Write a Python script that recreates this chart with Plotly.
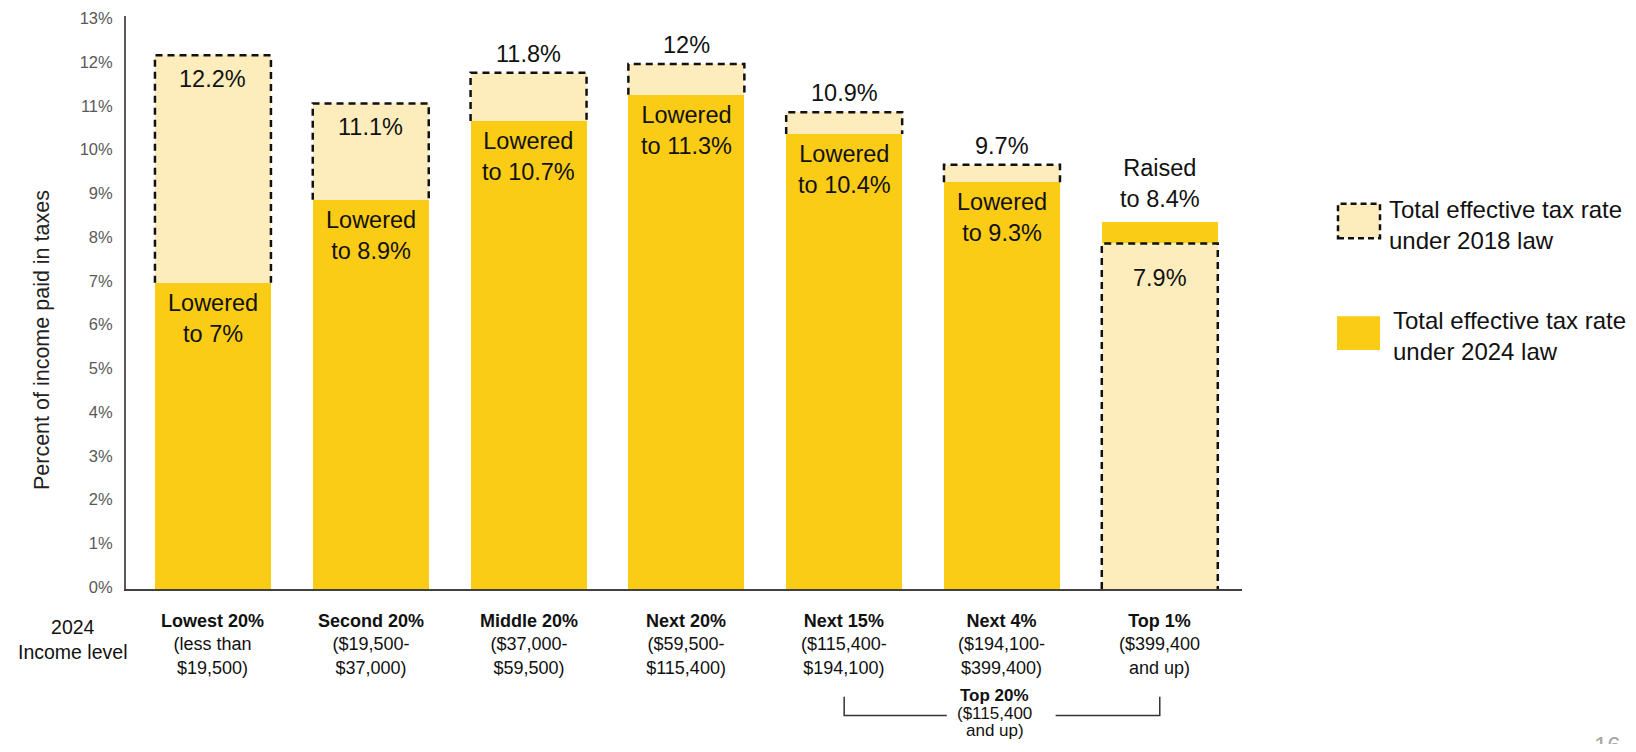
import plotly.graph_objects as go

# ---------------- data ----------------
categories = ["Lowest 20%", "Second 20%", "Middle 20%", "Next 20%", "Next 15%", "Next 4%", "Top 1%"]
income_ranges = ["(less than<br>$19,500)", "($19,500-<br>$37,000)", "($37,000-<br>$59,500)",
                 "($59,500-<br>$115,400)", "($115,400-<br>$194,100)", "($194,100-<br>$399,400)",
                 "($399,400<br>and up)"]
rate_2018 = [12.2, 11.1, 11.8, 12.0, 10.9, 9.7, 7.9]
rate_2024 = [7.0, 8.9, 10.7, 11.3, 10.4, 9.3, 8.4]
label_2018 = ["12.2%", "11.1%", "11.8%", "12%", "10.9%", "9.7%", "7.9%"]
label_2024 = ["Lowered<br>to 7%", "Lowered<br>to 8.9%", "Lowered<br>to 10.7%", "Lowered<br>to 11.3%",
              "Lowered<br>to 10.4%", "Lowered<br>to 9.3%", "Raised<br>to 8.4%"]
y_ticks = list(range(0, 14))
y_tick_labels = [f"{t}%" for t in y_ticks]
legend_labels = ["Total effective tax rate<br>under 2018 law", "Total effective tax rate<br>under 2024 law"]
group_lines = ["<b>Top 20%</b>", "($115,400", "and up)"]
left_label = "2024<br>Income level"
y_title = "Percent of income paid in taxes"
page_number = "16"

# ---------------- style ----------------
GOLD = "#FACC16"
LIGHT = "#FDEDBD"
FONT = "Liberation Sans, Arial, sans-serif"
BAR_W = 0.735
DASH = "7px,5px"
OFF = 8  # default page body margin

W, H = 1620, 736
ML, MT = 126 - OFF, 9 - OFF
PLOT_RIGHT, PLOT_BOTTOM = 1242 - OFF, 589 - OFF
MR, MB = W - PLOT_RIGHT, H - PLOT_BOTTOM
PW, PH = W - ML - MR, H - MT - MB


def px(x):  # page pixel x -> paper
    return (x - OFF - ML) / PW


def py(y):  # page pixel y -> paper
    return (H - MB - (y - OFF)) / PH


xs = list(range(len(categories)))
fig = go.Figure()

behind = [v18 if v18 > v24 else None for v18, v24 in zip(rate_2018, rate_2024)]
front = [v18 if v18 <= v24 else None for v18, v24 in zip(rate_2018, rate_2024)]

fig.add_trace(go.Bar(x=xs, y=behind, width=BAR_W, marker=dict(color=LIGHT, line=dict(width=0)),
                     hoverinfo="skip", showlegend=False))
fig.add_trace(go.Bar(x=xs, y=rate_2024, width=BAR_W, marker=dict(color=GOLD, line=dict(width=0)),
                     hoverinfo="skip", showlegend=False))
fig.add_trace(go.Bar(x=xs, y=front, width=BAR_W, marker=dict(color=LIGHT, line=dict(width=0)),
                     hoverinfo="skip", showlegend=False))

# dashed outlines of the 2018 bars (visible portion)
ox, oy = [], []
for i, (v18, v24) in enumerate(zip(rate_2018, rate_2024)):
    base = v24 if v18 > v24 else 0
    ox += [i - BAR_W / 2, i - BAR_W / 2, i + BAR_W / 2, i + BAR_W / 2, None]
    oy += [base, v18, v18, base, None]
fig.add_trace(go.Scatter(x=ox, y=oy, mode="lines", line=dict(color="#111111", width=2.5, dash=DASH),
                         hoverinfo="skip", showlegend=False, cliponaxis=False))

annotations = []
lab_font = dict(family=FONT, size=23.5, color="#111111")
for i, (v18, v24) in enumerate(zip(rate_2018, rate_2024)):
    if v18 > v24:
        if v18 - v24 > 1.5:
            annotations.append(dict(x=i, y=v18, xref="x", yref="y", text=label_2018[i], showarrow=False,
                                    yanchor="top", yshift=-9, font=lab_font))
        else:
            annotations.append(dict(x=i, y=v18, xref="x", yref="y", text=label_2018[i], showarrow=False,
                                    yanchor="bottom", yshift=4, font=lab_font))
        annotations.append(dict(x=i, y=v24, xref="x", yref="y", text=label_2024[i], showarrow=False,
                                yanchor="top", yshift=-5, font=lab_font))
    else:
        annotations.append(dict(x=i, y=v18, xref="x", yref="y", text=label_2018[i], showarrow=False,
                                yanchor="top", yshift=-20, font=lab_font))
        annotations.append(dict(x=i, y=v24, xref="x", yref="y", text=label_2024[i], showarrow=False,
                                yanchor="bottom", yshift=8, font=lab_font))

# category labels
for i, (c, r) in enumerate(zip(categories, income_ranges)):
    annotations.append(dict(x=i, y=0, xref="x", yref="y", text=f"<b>{c}</b><br>{r}", showarrow=False,
                            yanchor="top", yshift=-20, font=dict(family=FONT, size=18, color="#111111")))

annotations.append(dict(x=px(72), y=py(640), xref="paper", yref="paper", text=left_label, showarrow=False,
                        xanchor="center", yanchor="middle", font=dict(family=FONT, size=19.5, color="#111111")))

annotations.append(dict(x=px(42), y=py(337), xref="paper", yref="paper", text=y_title, showarrow=False,
                        textangle=-90, xanchor="center", yanchor="middle",
                        font=dict(family=FONT, size=21.5, color="#222222")))

for k, (line, ycen) in enumerate(zip(group_lines, [697, 715, 732])):
    annotations.append(dict(x=5, y=py(ycen), xref="x", yref="paper", text=line, showarrow=False,
                            yanchor="middle", xshift=-7, font=dict(family=FONT, size=17, color="#111111")))

annotations.append(dict(x=px(1387), y=py(221), xref="paper", yref="paper", text=legend_labels[0],
                        showarrow=False, xanchor="left", yanchor="middle", align="left",
                        font=dict(family=FONT, size=24, color="#111111")))
annotations.append(dict(x=px(1391), y=py(333), xref="paper", yref="paper", text=legend_labels[1],
                        showarrow=False, xanchor="left", yanchor="middle", align="left",
                        font=dict(family=FONT, size=24, color="#111111")))

annotations.append(dict(x=px(1607), y=py(732), xref="paper", yref="paper", text=page_number, showarrow=False,
                        xanchor="center", yanchor="top", font=dict(family=FONT, size=24, color="#A6A6A6")))

shapes = [
    dict(type="rect", xref="paper", yref="paper", x0=px(1338), x1=px(1380), y0=py(234), y1=py(199),
         fillcolor=LIGHT, line=dict(color="#111111", width=2.5, dash="6px,4px")),
    dict(type="rect", xref="paper", yref="paper", x0=px(1337), x1=px(1380), y0=py(347), y1=py(313),
         fillcolor=GOLD, line=dict(width=0)),
    # Top 20% bracket
    dict(type="path", xref="x", yref="paper",
         path=f"M 4,{py(698)} L 4,{py(717)} L 4.65,{py(717)}", line=dict(color="#333333", width=1.5)),
    dict(type="path", xref="x", yref="paper",
         path=f"M 5.34,{py(717)} L 6,{py(717)} L 6,{py(698)}", line=dict(color="#333333", width=1.5)),
]

fig.update_layout(
    width=W, height=H, autosize=False,
    margin=dict(l=ML, r=MR, t=MT, b=MB, pad=0),
    paper_bgcolor="white", plot_bgcolor="white",
    barmode="overlay", bargap=0,
    showlegend=False,
    font=dict(family=FONT, color="#111111"),
    xaxis=dict(range=[-0.551, 6.521], showticklabels=False, showgrid=False, zeroline=False,
               showline=True, linecolor="#404040", linewidth=2, ticks="", fixedrange=True),
    yaxis=dict(range=[0, 13.1], tickvals=y_ticks, ticktext=y_tick_labels, showgrid=False, zeroline=False,
               showline=True, linecolor="#595959", linewidth=2, ticks="", ticklabelstandoff=8,
               ticklabeloverflow="allow", ticklabelshift=-2,
               tickfont=dict(family=FONT, size=16.5, color="#595959"), fixedrange=True),
    annotations=annotations,
    shapes=shapes,
)

fig.write_html("out.html")
